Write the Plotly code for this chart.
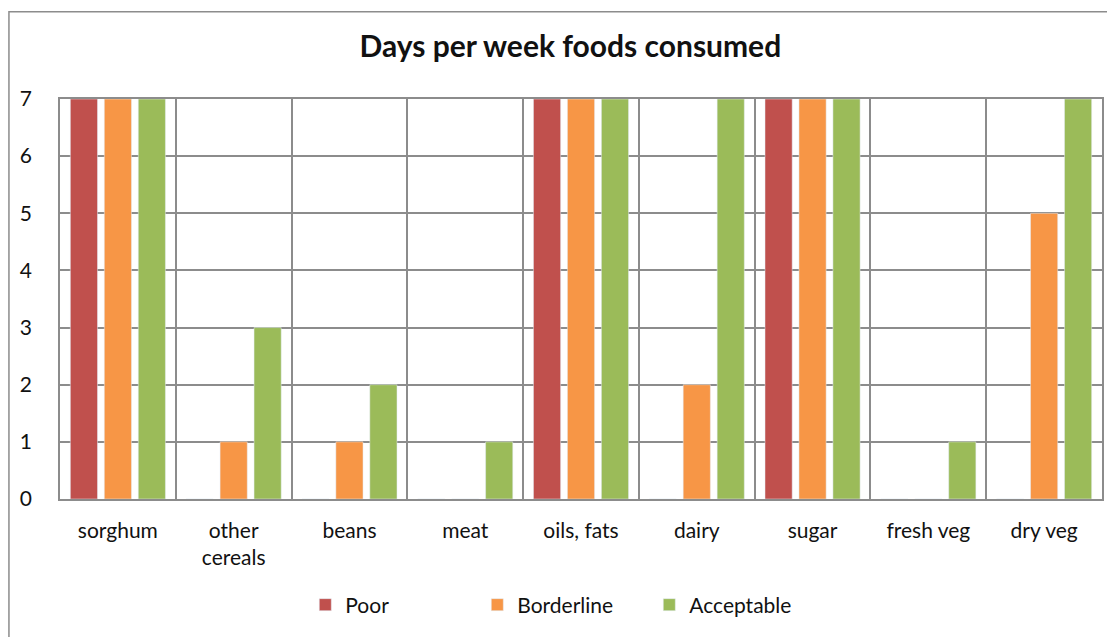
import plotly.graph_objects as go

# Données
foods = ['sorghum', 'other<br>cereals', 'beans', 'meat', 'oils, fats',
         'dairy', 'sugar', 'fresh veg', 'dry veg']
poor = [7, 0, 0, 0, 7, 0, 7, 0, 0]
borderline = [7, 1, 1, 0, 7, 2, 7, 0, 5]
acceptable = [7, 3, 2, 1, 7, 7, 7, 1, 7]

font_family = 'Lato, "Open Sans", sans-serif'

fig = go.Figure()
fig.add_trace(go.Bar(x=foods, y=poor, name='Poor', marker_color='#C0504D'))
fig.add_trace(go.Bar(x=foods, y=borderline, name='Borderline', marker_color='#F79646'))
fig.add_trace(go.Bar(x=foods, y=acceptable, name='Acceptable', marker_color='#9BBB59'))

# la page a une marge de 8px : on réduit la figure d'autant
fig.update_layout(
    width=1107,
    height=629,
    barmode='group',
    bargap=0.12,
    bargroupgap=0.2,
    plot_bgcolor='white',
    paper_bgcolor='white',
    font=dict(family=font_family, size=21, color='#111111'),
    title=dict(text='<b>Days per week foods consumed</b>', x=0.508, xref='container',
               y=0.938, yanchor='middle', font=dict(size=30, color='#111111')),
    margin=dict(l=52, r=13, t=91, b=131),
    legend=dict(orientation='h', x=0.483, xanchor='center', y=-0.265, yanchor='middle',
                entrywidth=127, font=dict(size=21), itemwidth=30),
    shapes=[dict(type='rect', xref='paper', yref='paper',
                 x0=-0.049, x1=1.02, y0=-0.4, y1=1.218,
                 line=dict(color='#8c8c8c', width=1.5), layer='below')],
)

fig.update_xaxes(
    tickson='boundaries',
    showgrid=True,
    gridcolor='#8c8c8c',
    gridwidth=1.5,
    showline=True,
    linecolor='#8c8c8c',
    linewidth=1.5,
    mirror=True,
    ticks='',
    ticklabelstandoff=12,
)
fig.update_yaxes(
    range=[0, 7],
    dtick=1,
    showgrid=True,
    gridcolor='#8c8c8c',
    gridwidth=1.5,
    showline=True,
    linecolor='#8c8c8c',
    linewidth=1.5,
    mirror=True,
    zeroline=False,
    ticks='',
    ticklabelstandoff=22,
)

fig.write_html('out.html')
